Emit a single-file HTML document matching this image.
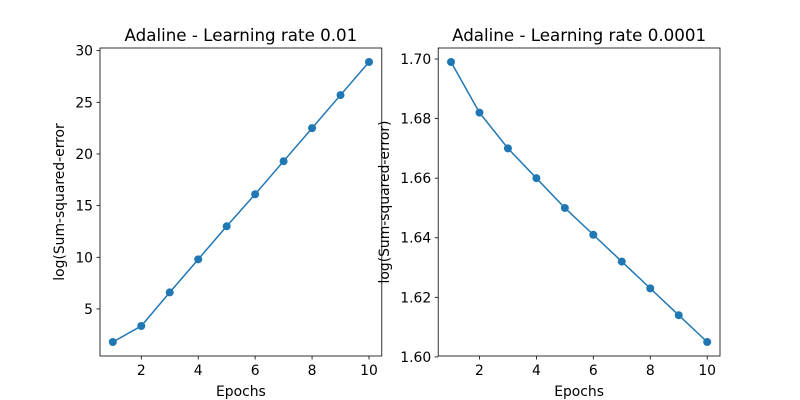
<!DOCTYPE html>
<html><head><meta charset="utf-8"><style>
html,body{margin:0;padding:0;background:#fff;}
svg{display:block;font-family:"DejaVu Sans","Liberation Sans",sans-serif;}
</style></head><body>
<svg id="fig" width="800" height="400" viewBox="0 0 800 400"></svg>
<script>
const epochs = [1,2,3,4,5,6,7,8,9,10];
const costLeft = [1.8,3.35,6.6,9.8,13.0,16.1,19.3,22.5,25.7,28.9];
const costRight = [1.699,1.682,1.670,1.660,1.650,1.641,1.632,1.623,1.614,1.605];
const xTicks = [2,4,6,8,10];
const yTicksLeft = [5,10,15,20,25,30];
const yTicksRight = [1.60,1.62,1.64,1.66,1.68,1.70];
const titles = ["Adaline - Learning rate 0.01","Adaline - Learning rate 0.0001"];

const svg = document.getElementById('fig');
const NS = 'http://www.w3.org/2000/svg';
function mk(tag, attrs, parent){const e=document.createElementNS(NS,tag);for(const k in attrs)e.setAttribute(k,attrs[k]);(parent||svg).appendChild(e);return e;}

function panel(x0, x1, ys, yTicks, dec, title, nm){
  const top=48, bot=356;
  const g=mk('g',{});
  
  
  const xmin=Math.min(...epochs), xmax=Math.max(...epochs), xm=(xmax-xmin)*0.05;
  const ymin=Math.min(...ys), ymax=Math.max(...ys), ym=(ymax-ymin)*0.05;
  const X=v=>x0+(v-(xmin-xm))/((xmax+xm)-(xmin-xm))*(x1-x0);
  const Y=v=>bot-(v-(ymin-ym))/((ymax+ym)-(ymin-ym))*(bot-top);
  xTicks.forEach(t=>{
    const px=X(t);
    const l=mk('line',{x1:px,x2:px,y1:bot,y2:bot+3.5,stroke:'#000','stroke-width':0.8},g);
    
    
    const tx=mk('text',{x:px,y:bot+19,'font-size':13.9,'text-anchor':'middle'},g);tx.textContent=t;
    
    
  });
  yTicks.forEach(t=>{
    const py=Y(t);
    if(py<top-1||py>bot+1)return;
    const l=mk('line',{x1:x0-3.5,x2:x0,y1:py,y2:py,stroke:'#000','stroke-width':0.8},g);
    
    
    const tx=mk('text',{x:x0-7,y:py+5,'font-size':13.9,'text-anchor':'end'},g);tx.textContent=t.toFixed(dec);
    
    
  });
  const pts=epochs.map((e,i)=>X(e)+','+Y(ys[i])).join(' ');
  const pl=mk('polyline',{points:pts,fill:'none',stroke:'#1f77b4','stroke-width':1.5},g);
  
  
  epochs.forEach((e,i)=>{
    const c=mk('circle',{cx:X(e),cy:Y(ys[i]),r:4,fill:'#1f77b4'},g);
    
    
  });
  const fr=mk('rect',{x:x0,y:top,width:x1-x0,height:bot-top,fill:'none',stroke:'#000','stroke-width':0.8},g);
  
  
  const tt=mk('text',{x:(x0+x1)/2,y:top-7,'font-size':16.7,'text-anchor':'middle'},g);tt.textContent=title;
  
  
  const xl=mk('text',{x:(x0+x1)/2,y:bot+40,'font-size':13.9,'text-anchor':'middle'},g);xl.textContent='Epochs';
  
  
  return {g,X,Y};
}
panel(100,381.8,costLeft,yTicksLeft,0,titles[0],'left-panel');
const yl1=mk('text',{x:0,y:0,'font-size':13.9,'text-anchor':'middle',transform:'translate(64,202) rotate(-90)'});
yl1.textContent='log(Sum-squared-error';


panel(438.2,720,costRight,yTicksRight,2,titles[1],'right-panel');
const yl2=mk('text',{x:0,y:0,'font-size':13.9,'text-anchor':'middle',transform:'translate(389,202) rotate(-90)'});
yl2.textContent='log(Sum-squared-error)';


</script>
</body></html>
